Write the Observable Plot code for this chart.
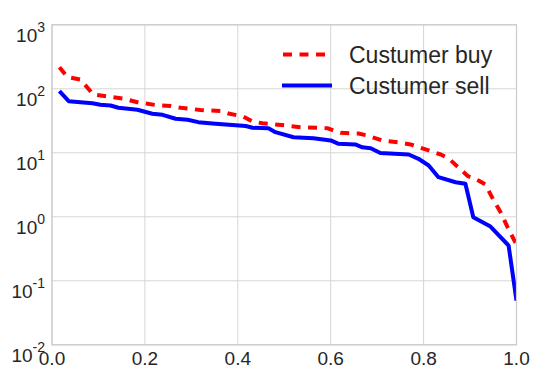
<!DOCTYPE html>
<html>
<head>
<meta charset="utf-8">
<script src="https://cdn.jsdelivr.net/npm/d3@7"></script>
<script src="https://cdn.jsdelivr.net/npm/@observablehq/plot@0.6"></script>
<style>
  html, body { margin: 0; padding: 0; background: #ffffff; }
  #chart { width: 539px; height: 378px; }
</style>
</head>
<body>
<div id="chart"></div>
<script>
// ---- data ----
const seriesNames = ["Custumer buy", "Custumer sell"];

const buyX = [0.016, 0.033, 0.061, 0.089, 0.152, 0.186, 0.223, 0.255, 0.277, 0.320, 0.363, 0.380, 0.412, 0.432, 0.453, 0.503, 0.535, 0.593, 0.621, 0.660, 0.679, 0.711, 0.746, 0.772, 0.837, 0.854, 0.880, 0.895, 0.918, 0.933, 0.951, 0.966, 0.983, 1.000];
const buyY = [217.6, 152.9, 139.8, 81.5, 70.5, 61.1, 55.8, 53.9, 50.5, 46.6, 45.0, 41.1, 36.9, 30.8, 28.9, 26.7, 25.1, 24.2, 20.5, 20.0, 18.6, 15.6, 14.5, 13.5, 9.40, 8.14, 5.48, 4.34, 3.69, 3.20, 1.80, 1.17, 0.634, 0.369];

const sellX = [0.016, 0.036, 0.087, 0.104, 0.126, 0.143, 0.184, 0.216, 0.238, 0.266, 0.292, 0.315, 0.352, 0.417, 0.432, 0.466, 0.481, 0.520, 0.563, 0.600, 0.617, 0.653, 0.668, 0.686, 0.707, 0.768, 0.789, 0.811, 0.832, 0.869, 0.890, 0.907, 0.944, 0.983, 1.000];
const sellY = [91.7, 64.0, 59.6, 56.2, 54.8, 50.5, 47.0, 40.7, 39.2, 34.0, 32.8, 30.1, 28.4, 26.2, 24.6, 24.2, 21.0, 17.5, 16.9, 15.6, 13.8, 13.5, 12.2, 11.8, 9.93, 9.40, 8.06, 6.33, 4.16, 3.47, 3.28, 0.986, 0.705, 0.356, 0.049];

const xTicks = [0, 0.2, 0.4, 0.6, 0.8, 1.0];
const yTicks = [0.01, 0.1, 1, 10, 100, 1000];

// ---- build tables ----
const buy = buyX.map((x, i) => ({x, y: buyY[i]}));
const sell = sellX.map((x, i) => ({x, y: sellY[i]}));

const FONT = "'Liberation Sans', Arial, Helvetica, sans-serif";
const TEXT = "#262626";
const GRID = "#d6d6d6";
const RED = "#ff0000";
const BLUE = "#0000ff";
const DASH = "9,7.5";

const chart = Plot.plot({
  width: 539,
  height: 378,
  marginLeft: 51.5,
  marginRight: 23,
  marginTop: 24.3,
  marginBottom: 33.7,
  style: {fontFamily: FONT, fontSize: "19px", color: TEXT, background: "#ffffff", overflow: "visible"},
  x: {domain: [0, 1]},
  y: {type: "log", domain: [0.01, 1000]},
  marks: [
    Plot.gridX(xTicks, {stroke: GRID, strokeOpacity: 1, strokeWidth: 1}),
    Plot.gridY(yTicks, {stroke: GRID, strokeOpacity: 1, strokeWidth: 1}),
    Plot.axisX(xTicks, {tickSize: 0, tickPadding: 6.5, tickFormat: d => d.toFixed(1), label: null, fontSize: 19, fill: TEXT}),
    Plot.axisY(yTicks, {tickSize: 0, tickPadding: 7, tickFormat: d => String(Math.round(Math.log10(d))), label: null, fontSize: 19, fill: TEXT}),
    Plot.line(buy, {x: "x", y: "y", stroke: RED, strokeWidth: 4, strokeDasharray: DASH, strokeLinecap: "butt", strokeLinejoin: "round", clip: true}),
    Plot.line(sell, {x: "x", y: "y", stroke: BLUE, strokeWidth: 4, strokeLinecap: "butt", strokeLinejoin: "round", clip: true}),
    Plot.frame({stroke: "#cccccc", strokeWidth: 1.25})
  ]
});

document.getElementById("chart").appendChild(chart);

// y tick labels as 10^n with a superscript exponent
const svg = d3.select(chart);
svg.selectAll("g[aria-label='y-axis tick label'] text").each(function() {
  const t = d3.select(this);
  const exp = t.text();
  t.text("").attr("dy", "0.56em");
  t.append("tspan").text("10");
  t.append("tspan").attr("dy", "-0.66em").attr("font-size", "14px").text(exp);
});

// legend (inside the plot, no box)
const legendColors = [RED, BLUE];
const legendDash = [DASH, null];
const legendY = [54.5, 85.5];
const lg = svg.append("g")
  .attr("font-family", FONT).attr("font-size", "23px").attr("fill", TEXT)
  .attr("text-anchor", "start");
seriesNames.forEach((name, i) => {
  const ln = lg.append("line")
    .attr("x1", i === 0 ? 283 : 284).attr("x2", 330)
    .attr("y1", legendY[i]).attr("y2", legendY[i])
    .attr("stroke", legendColors[i]).attr("stroke-width", 4)
    .attr("stroke-linecap", i === 0 ? "butt" : "square");
  if (legendDash[i]) ln.attr("stroke-dasharray", legendDash[i]);
  lg.append("text").attr("x", 349).attr("y", legendY[i] + 8)
    .attr("text-anchor", "start").text(name);
});
</script>
</body>
</html>
